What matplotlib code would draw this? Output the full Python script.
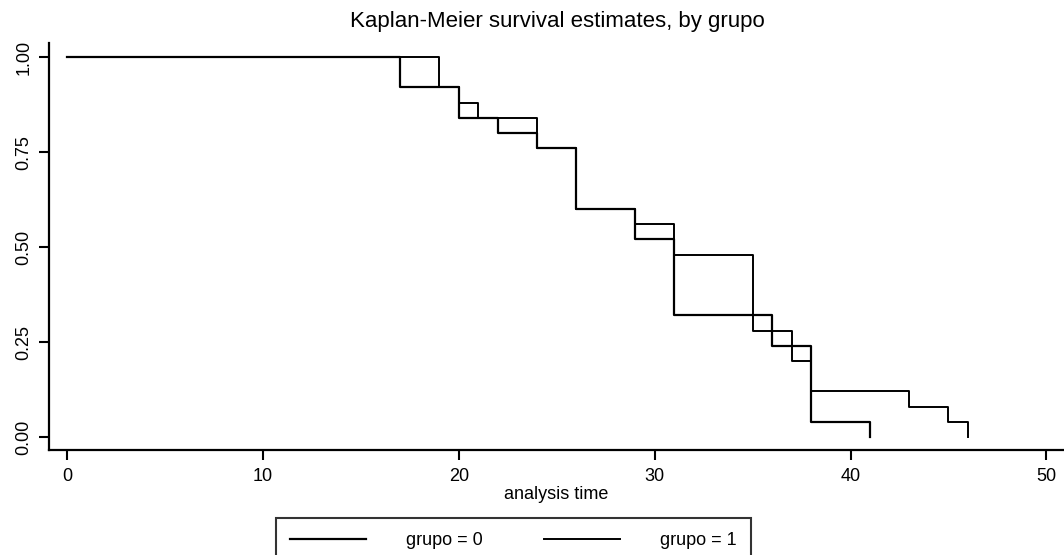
import matplotlib
matplotlib.use("Agg")
import matplotlib.pyplot as plt

# Kaplan-Meier step data (time, survival)
time_g0 = [0, 17, 20, 22, 24, 26, 29, 31, 36, 38, 41]
surv_g0 = [1.00, 0.92, 0.84, 0.80, 0.76, 0.60, 0.52, 0.32, 0.24, 0.04, 0.00]
time_g1 = [0, 19, 20, 21, 24, 26, 29, 31, 35, 37, 38, 43, 45, 46]
surv_g1 = [1.00, 0.92, 0.88, 0.84, 0.76, 0.60, 0.56, 0.48, 0.28, 0.20, 0.12, 0.08, 0.04, 0.00]

labels = ["grupo = 0", "grupo = 1"]
xticks = [0, 10, 20, 30, 40, 50]
yticks = [0.00, 0.25, 0.50, 0.75, 1.00]

plt.rcParams['font.family'] = ['Liberation Sans', 'DejaVu Sans']

fig = plt.figure(figsize=(10.64, 5.55), dpi=100)
ax = fig.add_axes([49/1064, 1 - 450/555, 1 - 49/1064, (450 - 43)/555])

ax.step(time_g0, surv_g0, where='post', color='black', lw=1.6, label=labels[0])
ax.step(time_g1, surv_g1, where='post', color='black', lw=1.4, label=labels[1])

ax.set_xlim(-0.92, 50.9)
ax.set_ylim(-0.034, 1.037)
ax.set_xticks(xticks)
ax.set_xticklabels([str(v) for v in xticks], fontsize=13)
ax.set_yticks(yticks)
ax.set_yticklabels([f"{v:.2f}" for v in yticks], fontsize=13, rotation=90, va='center')

for side in ['top', 'right']:
    ax.spines[side].set_visible(False)
for side in ['left', 'bottom']:
    ax.spines[side].set_linewidth(1.6)
ax.tick_params(axis='both', direction='out', length=7, width=1.5)
ax.tick_params(axis='x', pad=6)
ax.tick_params(axis='y', pad=5)

ax.set_xlabel("analysis time", fontsize=13, labelpad=1)

fig.text(557/1064, 1 - 22/555, "Kaplan-Meier survival estimates, by grupo",
         fontsize=16, ha='center', va='center')

leg = fig.legend(loc='upper left', bbox_to_anchor=(276/1064, 1 - 518/555),
                 ncol=2, fontsize=13, frameon=True, fancybox=False,
                 handlelength=4.2, handletextpad=2.2, columnspacing=3.4,
                 borderpad=0.8, borderaxespad=0)
leg.get_frame().set_edgecolor('black')
leg.get_frame().set_linewidth(1.5)

fig.savefig("out.png", dpi=100)
